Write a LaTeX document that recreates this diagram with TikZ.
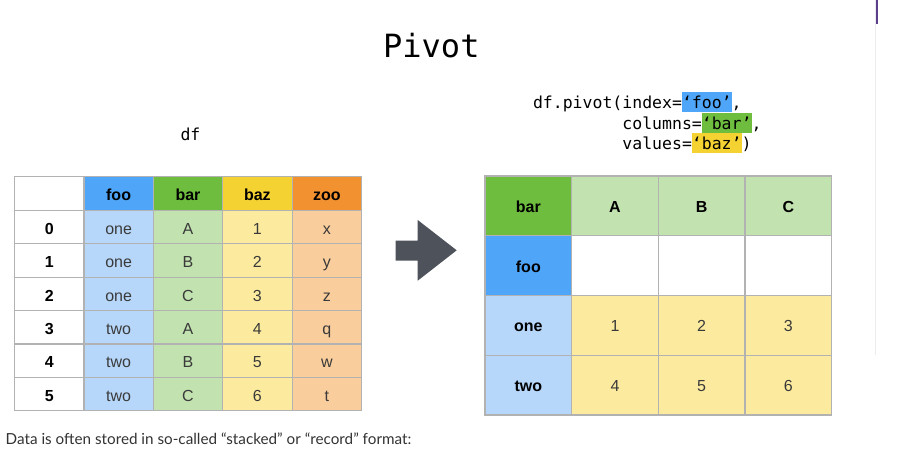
\documentclass[tikz,border=0pt]{standalone}
\usepackage{fontspec}
\setmainfont{Liberation Sans}
\newfontfamily\codefont{DejaVu Sans Mono}
\newfontfamily\latofont{Lato}
\definecolor{fooH}{HTML}{4FA6F8}
\definecolor{fooL}{HTML}{B6D7FA}
\definecolor{barH}{HTML}{6FBD3F}
\definecolor{barL}{HTML}{C2E2B0}
\definecolor{bazH}{HTML}{F4D232}
\definecolor{bazL}{HTML}{FCEB9E}
\definecolor{zooH}{HTML}{F2912F}
\definecolor{zooL}{HTML}{F9CD9C}
\definecolor{gridgray}{HTML}{B2B2B2}
\definecolor{arrowgray}{HTML}{4E525A}
\definecolor{valtext}{HTML}{3A3A3A}
\definecolor{captext}{HTML}{333333}
\definecolor{sideline}{HTML}{ECECEC}
\definecolor{sidepurple}{HTML}{5B3F8C}
\newcommand\hlbox[2]{{\setlength{\fboxsep}{0pt}\colorbox{#1}{\rule[-3.6pt]{0pt}{20.3pt}#2}}}
\begin{document}
\begin{tikzpicture}[x=1pt,y=-1pt,
  cell/.style={draw=gridgray, line width=1.2pt, inner sep=0pt, outer sep=0pt,
    font=\fontsize{16}{19}\selectfont, text=valtext},
  boldcell/.style={cell, font=\fontsize{16}{19}\selectfont\bfseries, text=black},
  lsize/.style={minimum width=69.4pt, minimum height=33.37pt, text height=14.6pt, text depth=0pt},
  lhsize/.style={minimum width=69.4pt, minimum height=34pt, text height=13.4pt, text depth=0pt},
  rsize/.style={minimum width=86.67pt, minimum height=59.75pt, text height=12.8pt, text depth=0pt},
  codetext/.style={inner sep=0pt, outer sep=0pt, anchor=base west,
    font=\codefont\fontsize{16.5}{20}\selectfont, text=black}]
\useasboundingbox (0,0) rectangle (897,468);
\fill[white] (0,0) rectangle (897,468);

% page side line
\draw[sideline, line width=1pt] (875.5,0) -- (875.5,355);
\fill[sidepurple] (875.7,0) rectangle (877.7,24);

% title and labels
\node[inner sep=0pt, anchor=base west, font=\codefont\fontsize{32}{38}\selectfont] (title) at (383,57.3) {Pivot};
\node[codetext] (dflabel) at (180.5,140.7) {df};
\node[codetext] (code1) at (533,108.7) {df.pivot(index=\hlbox{fooH}{‘foo’},};
\node[codetext] (code2) at (622.4,129.2) {columns=\hlbox{barH}{‘bar’},};
\node[codetext] (code3) at (622.4,149.7) {values=\hlbox{bazH}{‘baz’})};

% left table header
\foreach \c/\f/\t in {0/white/{},1/fooH/foo,2/barH/bar,3/bazH/baz,4/zooH/zoo}
  \node[boldcell, lhsize, fill=\f] (L-0-\c) at ({49.2+69.4*\c},193.5) {\t};
% left table rows
\foreach \r/\i/\pa/\pb/\pc/\pd in {1/0/one/A/1/x,2/1/one/B/2/y,3/2/one/C/3/z,4/3/two/A/4/q,5/4/two/B/5/w,6/5/two/C/6/t}{
  \node[boldcell, lsize, fill=white] (L-\r-0) at (49.2,{193.815+33.37*\r}) {\i};
  \node[cell, lsize, fill=fooL] (L-\r-1) at (118.6,{193.815+33.37*\r}) {\pa};
  \node[cell, lsize, fill=barL] (L-\r-2) at (188.0,{193.815+33.37*\r}) {\pb};
  \node[cell, lsize, fill=bazL] (L-\r-3) at (257.4,{193.815+33.37*\r}) {\pc};
  \node[cell, lsize, fill=zooL] (L-\r-4) at (326.8,{193.815+33.37*\r}) {\pd};
}

% arrow
\fill[arrowgray] (395.7,240.7) -- (417.7,240.7) -- (417.7,220) -- (456.7,250.3)
  -- (417.7,280.7) -- (417.7,260.7) -- (395.7,260.7) -- cycle;

% right table
\node[boldcell, rsize, fill=barH] (R-0-0) at (528.33,205.875) {bar};
\foreach \c/\t in {1/A,2/B,3/C}
  \node[boldcell, rsize, fill=barL] (R-0-\c) at ({528.33+86.67*\c},205.875) {\t};
\node[boldcell, rsize, fill=fooH] (R-1-0) at (528.33,265.625) {foo};
\foreach \c in {1,2,3}
  \node[cell, rsize, fill=white] (R-1-\c) at ({528.33+86.67*\c},265.625) {};
\foreach \r/\t/\pa/\pb/\pc in {2/one/1/2/3,3/two/4/5/6}{
  \node[boldcell, rsize, fill=fooL] (R-\r-0) at (528.33,{205.875+59.75*\r}) {\t};
  \node[cell, rsize, fill=bazL] (R-\r-1) at (615.0,{205.875+59.75*\r}) {\pa};
  \node[cell, rsize, fill=bazL] (R-\r-2) at (701.67,{205.875+59.75*\r}) {\pb};
  \node[cell, rsize, fill=bazL] (R-\r-3) at (788.33,{205.875+59.75*\r}) {\pc};
}

% caption
\node[inner sep=0pt, anchor=base west, font=\latofont\fontsize{15.25}{18}\selectfont, text=captext] (caption) at (5.5,444.3)
  {Data is often stored in so-called “stacked” or “record” format:};
\end{tikzpicture}
\end{document}
